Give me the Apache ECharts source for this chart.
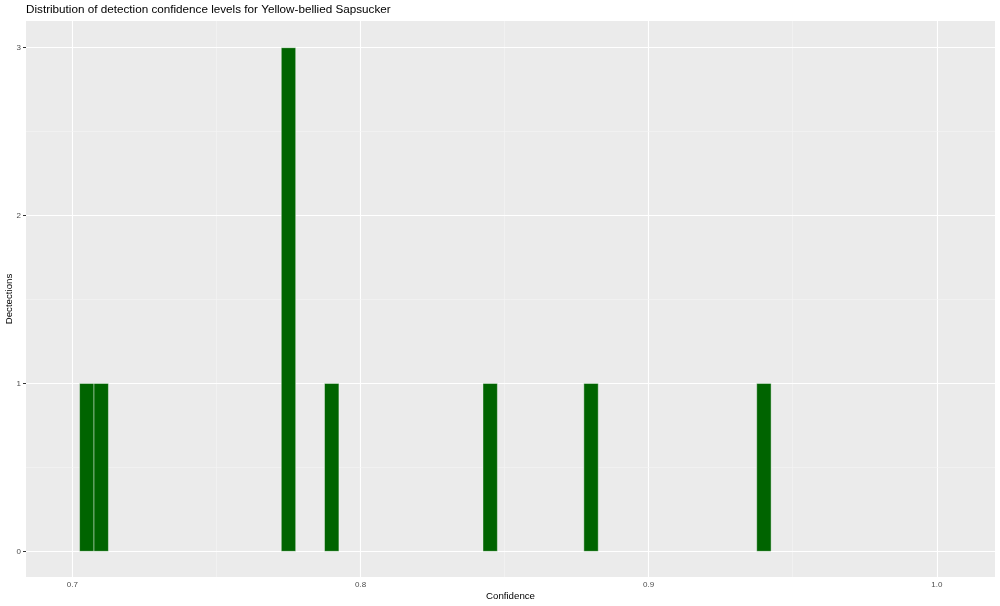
<!DOCTYPE html>
<html>
<head>
<meta charset="utf-8">
<script src="https://cdn.jsdelivr.net/npm/echarts@6/dist/echarts.min.js"></script>
<style>html,body{margin:0;padding:0;background:#fff;}#c{width:1000px;height:606px;}</style>
</head>
<body>
<div id="c"></div>
<script>
// Data (bin centres, binwidth 0.005)
var binCenters = [0.705, 0.710, 0.775, 0.790, 0.845, 0.880, 0.940];
var counts     = [1, 1, 3, 1, 1, 1, 1];
var BIN = 0.005;
var xTicks = [0.7, 0.8, 0.9, 1.0];
var xTickLabels = ['0.7', '0.8', '0.9', '1.0'];
var xMinor = [0.75, 0.85, 0.95];
var yTicks = [0, 1, 2, 3];
var yMinor = [0.5, 1.5, 2.5];

var chart = echarts.init(document.getElementById('c'), null, {renderer: 'canvas'});
var data = binCenters.map(function (c, i) { return [c, counts[i]]; });

var majorStyle = {color: '#FFFFFF', width: 1.1, type: 'solid'};
var minorStyle = {color: '#F5F5F5', width: 0.6, type: 'solid'};
var gridLines = [];
xTicks.forEach(function (v) { gridLines.push({xAxis: v, lineStyle: majorStyle}); });
xMinor.forEach(function (v) { gridLines.push({xAxis: v, lineStyle: minorStyle}); });
yTicks.forEach(function (v) { gridLines.push({yAxis: v, lineStyle: majorStyle}); });
yMinor.forEach(function (v) { gridLines.push({yAxis: v, lineStyle: minorStyle}); });

var FONT = 'Liberation Sans, Arial, sans-serif';
var axisLabelStyle = {color: '#4D4D4D', fontSize: 8, fontFamily: FONT};

chart.setOption({
  animation: false,
  textStyle: {fontFamily: FONT},
  title: {
    text: 'Distribution of detection confidence levels for Yellow-bellied Sapsucker',
    left: 26, top: 4, padding: 0,
    textStyle: {fontSize: 11.7, fontWeight: 'normal', color: '#000000', fontFamily: FONT}
  },
  grid: {left: 26, right: 5, top: 21, bottom: 29, show: true, backgroundColor: '#EBEBEB', borderWidth: 0,
         containLabel: false, outerBoundsMode: 'none'},
  xAxis: {
    type: 'value', min: 0.6839, max: 1.0202,
    name: 'Confidence', nameLocation: 'middle', nameGap: 14, nameMoveOverlap: false,
    nameTextStyle: {fontSize: 9.7, color: '#000000', fontFamily: FONT},
    axisLine: {show: false},
    axisTick: {show: true, length: 3, lineStyle: {color: '#333333', width: 1}, customValues: xTicks},
    axisLabel: Object.assign({margin: 4, customValues: xTicks, formatter: function (v) {
      var i = xTicks.indexOf(v); return i >= 0 ? xTickLabels[i] : '';
    }}, axisLabelStyle),
    splitLine: {show: false}, minorSplitLine: {show: false}
  },
  yAxis: {
    type: 'value', min: -0.153, max: 3.159,
    name: 'Dectections', nameLocation: 'middle', nameGap: 12, nameRotate: 90, nameMoveOverlap: false,
    nameTextStyle: {fontSize: 9.7, color: '#000000', fontFamily: FONT},
    axisLine: {show: false},
    axisTick: {show: true, length: 3, lineStyle: {color: '#333333', width: 1}, customValues: yTicks},
    axisLabel: Object.assign({margin: 5, customValues: yTicks}, axisLabelStyle),
    splitLine: {show: false}, minorSplitLine: {show: false}
  },
  series: [
    {
      type: 'line', data: [], z: 1, silent: true,
      markLine: {z: 1, silent: true, symbol: ['none', 'none'], label: {show: false}, animation: false, data: gridLines}
    },
    {
      type: 'custom', z: 3,
      data: data,
      renderItem: function (params, api) {
        var c = api.value(0), n = api.value(1);
        var p0 = api.coord([c - BIN / 2, n]);
        var p1 = api.coord([c + BIN / 2, 0]);
        return {
          type: 'rect',
          shape: {x: p0[0], y: p0[1], width: p1[0] - p0[0], height: p1[1] - p0[1]},
          style: {fill: '#006400', stroke: 'rgba(255,255,255,0.7)', lineWidth: 0.6}
        };
      }
    }
  ]
});
</script>
</body>
</html>
